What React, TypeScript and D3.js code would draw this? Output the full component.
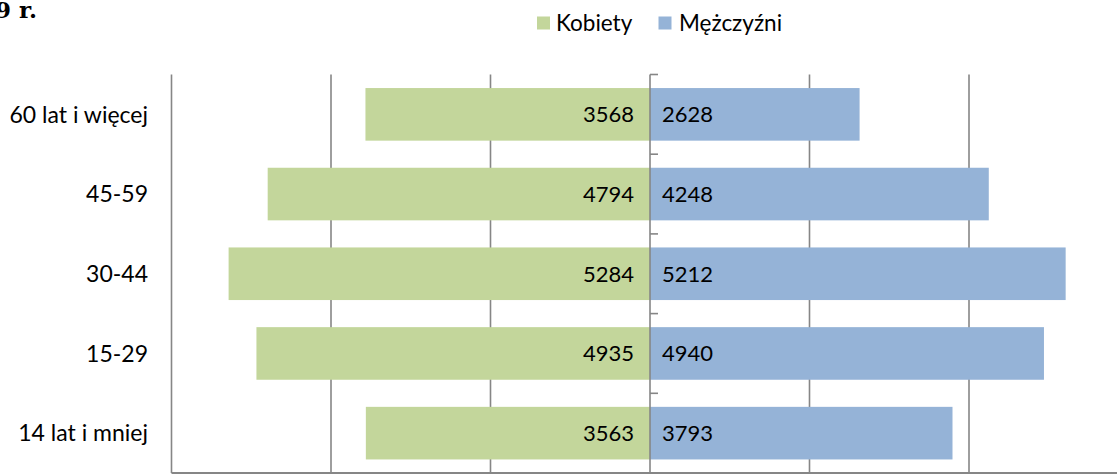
import React from "react";
import * as d3 from "d3";

const categories = ["60 lat i więcej", "45-59", "30-44", "15-29", "14 lat i mniej"];
const women = [3568, 4794, 5284, 4935, 3563];
const men = [2628, 4248, 5212, 4940, 3793];
const gridTicks = [-6000, -4000, -2000, 0, 2000, 4000, 6000];
const seriesNames = ["Kobiety", "Mężczyźni"];
const colors = ["#C3D69B", "#95B3D7"];

const W = 1117;
const H = 475;
const FONT = "Lato, 'Open Sans', sans-serif";

export default function App() {
  const x = d3.scaleLinear().domain([-6000, 6000]).range([171.5, 1128.5]);
  const y = d3.scaleBand<string>().domain(categories).range([74.5, 473]).paddingInner(0.34).paddingOuter(0.17);
  const step = y.step();
  const top = 74.5;
  const bottom = 473;
  const x0 = x(0);
  const grid = "#868686";

  return (
    <svg width={W} height={H} style={{ position: "absolute", left: 0, top: 0, background: "#fff" }}>
      <text x={37} y={18} textAnchor="end" fontFamily="'DejaVu Serif', serif" fontWeight="bold" fontSize={23} fill="#000">
        Ludność według płci i grup wieku w 2009 r.
      </text>
      {/* legend */}
      <g fontFamily={FONT} fontSize={22.5} fill="#000">
        <rect x={537} y={16.5} width={13} height={13} fill={colors[0]} />
        <text x={556} y={30.5}>{seriesNames[0]}</text>
        <rect x={658.5} y={16.5} width={13} height={13} fill={colors[1]} />
        <text x={679} y={30.5}>{seriesNames[1]}</text>
      </g>
      {/* gridlines */}
      {gridTicks.filter((t) => t !== 0).map((t) => (
        <line key={t} x1={x(t)} x2={x(t)} y1={top} y2={bottom} stroke={grid} strokeWidth={1.6} />
      ))}
      {/* bottom axis */}
      <line x1={x(-6000)} x2={x(6000)} y1={bottom} y2={bottom} stroke={grid} strokeWidth={2} />
      {/* bars */}
      {categories.map((c, i) => (
        <g key={c}>
          <rect x={x(-women[i])} y={y(c)} width={x0 - x(-women[i])} height={y.bandwidth()} fill={colors[0]} />
          <rect x={x0} y={y(c)} width={x(men[i]) - x0} height={y.bandwidth()} fill={colors[1]} />
        </g>
      ))}
      {/* center axis */}
      <line x1={x0} x2={x0} y1={top} y2={bottom} stroke={grid} strokeWidth={1.6} />
      {d3.range(categories.length + 1).map((k) => (
        <line key={k} x1={x0} x2={x0 + 8} y1={top + k * step} y2={top + k * step} stroke={grid} strokeWidth={1.6} />
      ))}
      {/* value labels */}
      <g fontFamily={FONT} fontSize={22} fill="#000">
        {categories.map((c, i) => {
          const cy = (y(c) as number) + y.bandwidth() / 2;
          return (
            <g key={c}>
              <text x={x0 - 16} y={cy} dy="0.36em" textAnchor="end">{women[i]}</text>
              <text x={x0 + 12} y={cy} dy="0.36em" textAnchor="start">{men[i]}</text>
            </g>
          );
        })}
      </g>
      {/* category labels */}
      <g fontFamily={FONT} fontSize={23} fill="#000">
        {categories.map((c) => (
          <text key={c} x={148} y={(y(c) as number) + y.bandwidth() / 2} dy="0.36em" textAnchor="end">{c}</text>
        ))}
      </g>
    </svg>
  );
}
